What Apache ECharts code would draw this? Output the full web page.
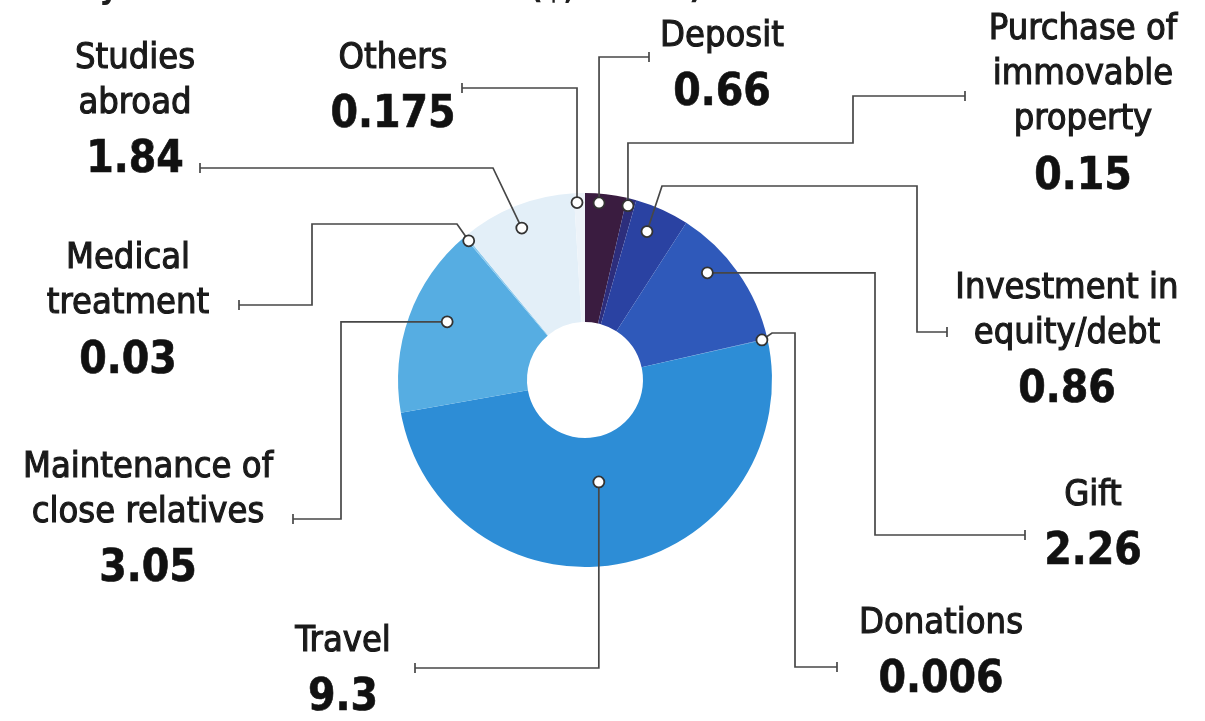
<!DOCTYPE html>
<html><head><meta charset="utf-8">
<script src="https://cdn.jsdelivr.net/npm/echarts@6/dist/echarts.min.js"></script>
<style>html,body{margin:0;padding:0;background:#fff;}#main{width:1205px;height:721px;}</style>
</head><body><div id="main"></div>
<script>
// ---- data ----
const titleText = 'Money sent under LRS in FY24 ($, billion)';
const categories = ['Deposit', 'Purchase of immovable property', 'Investment in equity/debt', 'Gift', 'Donations',
  'Travel', 'Maintenance of close relatives', 'Medical treatment', 'Studies abroad', 'Others'];
const values = [0.66, 0.15, 0.86, 2.26, 0.006, 9.3, 3.05, 0.03, 1.84, 0.175];
const labelLines = [['Deposit'], ['Purchase of', 'immovable', 'property'], ['Investment in', 'equity/debt'], ['Gift'],
  ['Donations'], ['Travel'], ['Maintenance of', 'close relatives'], ['Medical', 'treatment'], ['Studies', 'abroad'], ['Others']];

// ---- styles / layout ----
const FONT = "'DejaVu Sans Condensed', 'DejaVu Sans', sans-serif";
const colors = ['#3a1c40', '#2d2e7c', '#2a42a2', '#2f59ba', '#2f6cc6', '#2d8dd6', '#56ade2', '#8ccaee', '#e3eff8', '#edf3f9'];
const labelPos = [[722, 14], [1083, 7.5], [1067, 266], [1093, 473], [941, 601], [343, 619], [148, 445], [128, 236.5], [135, 36], [393, 36]];
const dotAt = [[0.35, 0.95], [0.3, 0.96], [0.4, 0.86], [0.36, 0.87], [0.5, 0.97], [0.52, 0.55], [0.55, 0.8], [0.5, 0.97], [0.47, 0.88], [0.25, 0.95]];
const routes = [
  [['v', 57], ['h', 649]],
  [['v', 143], ['h', 853], ['v', 96], ['h', 965]],
  [['p', 662, 186], ['h', 917], ['v', 332], ['h', 947]],
  [['h', 875], ['v', 535], ['h', 1025]],
  [['p', 772, 333], ['h', 795], ['v', 667], ['h', 837]],
  [['v', 668], ['h', 415]],
  [['h', 341], ['v', 519], ['h', 293]],
  [['p', 457, 224], ['h', 312], ['v', 305], ['h', 239]],
  [['p', 493, 168], ['h', 200]],
  [['v', 88], ['h', 462]]
];
const PIE_CENTER = [585, 380], PIE_RADIUS = [58, 187];

const chart = echarts.init(document.getElementById('main'), null, {renderer: 'canvas'});
chart.setOption({
  animation: false,
  backgroundColor: '#ffffff',
  title: {
    text: titleText, left: 3, top: -32,
    textStyle: {fontFamily: FONT, fontSize: 33, fontWeight: 'bold', color: '#1e1e1e'}
  },
  series: [{
    type: 'pie',
    center: PIE_CENTER,
    radius: PIE_RADIUS,
    startAngle: 90,
    clockwise: true,
    avoidLabelOverlap: false,
    silent: true,
    emphasis: {disabled: true},
    itemStyle: {borderWidth: 0},
    data: categories.map((c, i) => ({name: c, value: values[i], itemStyle: {color: colors[i]}})),
    label: {
      show: true,
      position: 'outside',
      formatter: p => labelLines[p.dataIndex].map(s => '{n|' + s + '}').join('\n') + '\n{v|' + p.value + '}',
      rich: {
        n: {fontFamily: FONT, fontSize: 36, lineHeight: 45, color: '#1a1a1a', align: 'center',
            textBorderColor: '#1a1a1a', textBorderWidth: 1.1},
        v: {fontFamily: FONT, fontSize: 44, lineHeight: 70, fontWeight: 'bold', color: '#111', align: 'center',
            textBorderColor: '#111', textBorderWidth: 0.6}
      }
    },
    labelLine: {show: false},
    labelLayout: p => ({x: labelPos[p.dataIndex][0], y: labelPos[p.dataIndex][1], align: 'center', verticalAlign: 'top'})
  }]
});

// leader lines and dots from the pie's own layout
function sliceLayout(i) {
  try {
    const d = chart.getModel().getSeriesByIndex(0).getData();
    const L = d.getItemLayout(i);
    if (L && isFinite(L.startAngle)) return L;
  } catch (e) {}
  const total = values.reduce((a, b) => a + b, 0);
  let acc = 0; for (let k = 0; k < i; k++) acc += values[k];
  const s = -Math.PI / 2 + acc / total * Math.PI * 2;
  return {cx: PIE_CENTER[0], cy: PIE_CENTER[1], r: PIE_RADIUS[1], r0: PIE_RADIUS[0], startAngle: s, endAngle: s + values[i] / total * Math.PI * 2};
}
const els = [];
const LINE = '#474747';
for (let i = 0; i < values.length; i++) {
  const L = sliceLayout(i);
  const a = L.startAngle + (L.endAngle - L.startAngle) * dotAt[i][0];
  const rr = L.r * dotAt[i][1];
  const x0 = L.cx + rr * Math.cos(a), y0 = L.cy + rr * Math.sin(a);
  const pts = [[x0, y0]];
  let cx = x0, cy = y0, last = 'h';
  routes[i].forEach(s => {
    if (s[0] === 'v') { cy = s[1]; last = 'v'; }
    else if (s[0] === 'h') { cx = s[1]; last = 'h'; }
    else { cx = s[1]; cy = s[2]; last = 'p'; }
    pts.push([cx, cy]);
  });
  els.push({type: 'polyline', z: 100, silent: true, shape: {points: pts}, style: {stroke: LINE, lineWidth: 1.7, fill: null}});
  const tk = 5;
  const tick = last === 'v' ? [[cx - tk, cy], [cx + tk, cy]] : [[cx, cy - tk], [cx, cy + tk]];
  els.push({type: 'polyline', z: 100, silent: true, shape: {points: tick}, style: {stroke: LINE, lineWidth: 1.7, fill: null}});
  els.push({type: 'circle', z: 101, silent: true, shape: {cx: x0, cy: y0, r: 5.5}, style: {fill: '#fff', stroke: '#333', lineWidth: 1.8}});
}
chart.setOption({graphic: {elements: els}});
</script>
</body></html>
